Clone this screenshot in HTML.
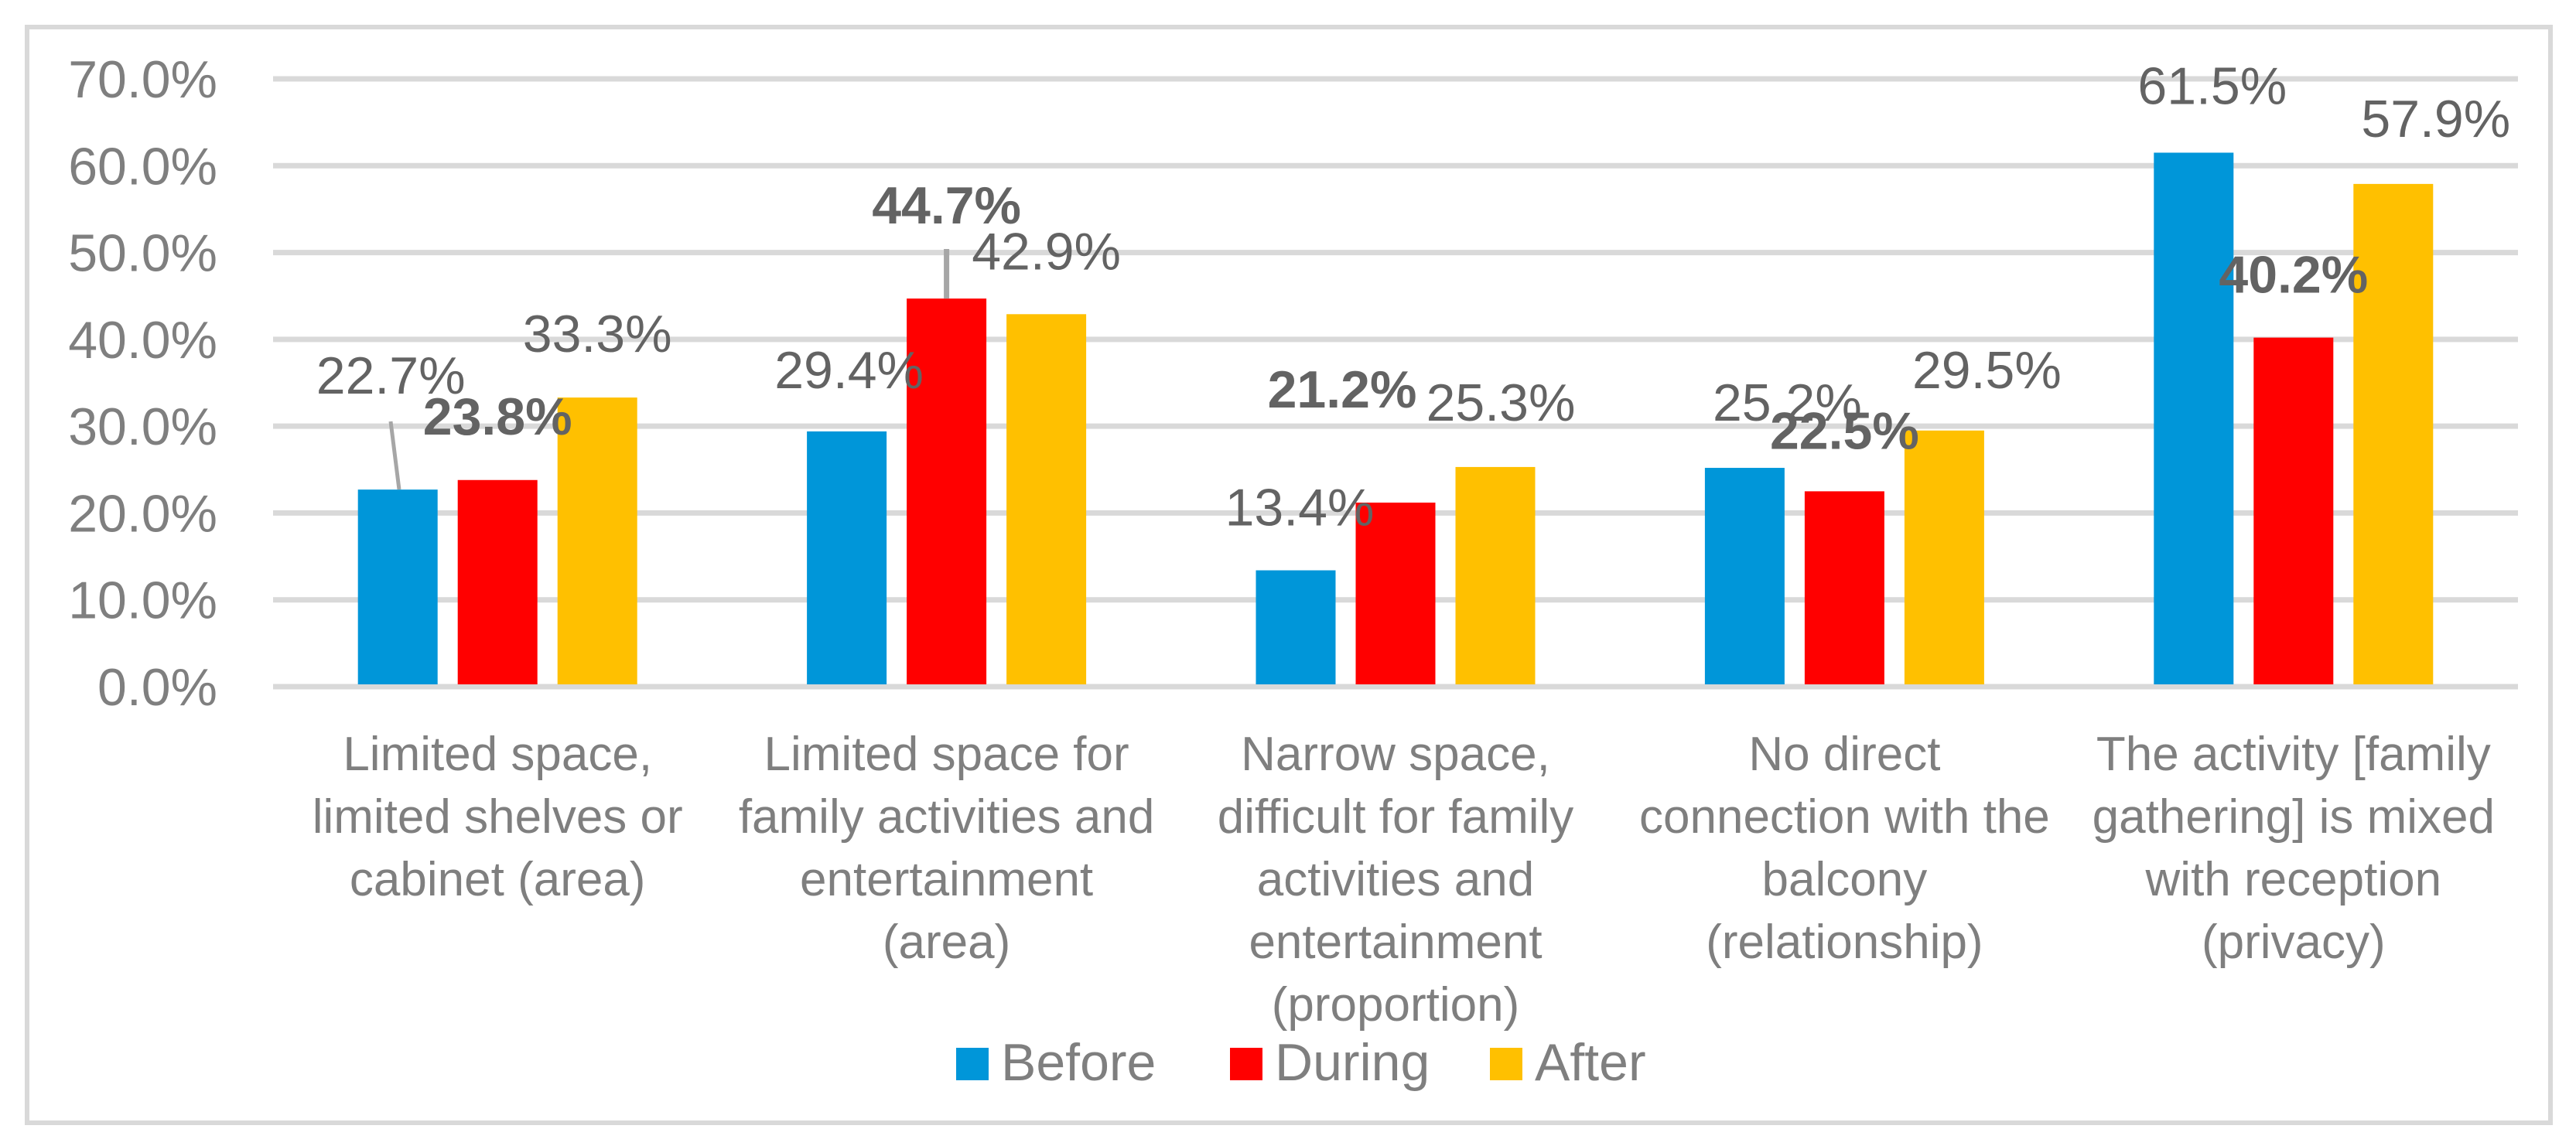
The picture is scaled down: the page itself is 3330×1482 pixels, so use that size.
<!DOCTYPE html>
<html><head><meta charset="utf-8"><style>
html,body{margin:0;padding:0;background:#fff;}
svg{display:block;font-family:"Liberation Sans",Arial,sans-serif;}
</style></head><body>
<svg id="chart" width="3330" height="1482" viewBox="0 0 3330 1482" xmlns="http://www.w3.org/2000/svg">
<rect x="35" y="35" width="3262" height="1417" fill="#fff" stroke="#d9d9d9" stroke-width="6"/>
<g id="grid"></g><g id="bars"></g><g id="labels"></g><g id="cats"></g>
<g>
<rect x="1236" y="1355" width="42" height="42" fill="#0096D9"/>
<text x="1294" y="1397" font-size="68" fill="#7f7f7f">Before</text>
<rect x="1590" y="1355" width="42" height="42" fill="#FF0000"/>
<text x="1648" y="1397" font-size="68" fill="#7f7f7f">During</text>
<rect x="1926" y="1355" width="42" height="42" fill="#FFC000"/>
<text x="1984" y="1397" font-size="68" fill="#7f7f7f">After</text>
</g>
</svg>
<script>
const categories = [
  ["Limited space,","limited shelves or","cabinet (area)"],
  ["Limited space for","family activities and","entertainment","(area)"],
  ["Narrow space,","difficult for family","activities and","entertainment","(proportion)"],
  ["No direct","connection with the","balcony","(relationship)"],
  ["The activity [family","gathering] is mixed","with reception","(privacy)"]
];
const before = [22.7, 29.4, 13.4, 25.2, 61.5];
const during = [23.8, 44.7, 21.2, 22.5, 40.2];
const after = [33.3, 42.9, 25.3, 29.5, 57.9];
const yTicks = [0, 10, 20, 30, 40, 50, 60, 70];
const seriesNames = ["before","during","after"];

const NS = "http://www.w3.org/2000/svg";
const plotL = 353, plotR = 3255, y0 = 888, yTop = 102, yMax = 70;
const catW = (plotR - plotL) / categories.length;
const barW = 103, barStep = 129;
const colors = ["#0096D9","#FF0000","#FFC000"];
function y(v){ return y0 - (v / yMax) * (y0 - yTop); }
function xCenter(i){ return plotL + catW * (i + 0.5); }
function mk(tag, attrs, parent){
  const e = document.createElementNS(NS, tag);
  for (const k in attrs) e.setAttribute(k, attrs[k]);
  parent.appendChild(e); return e;
}
const grid = document.getElementById('grid');
yTicks.forEach(t => {
  const l = mk('line', {x1: plotL, x2: plotR, y1: y(t), y2: y(t), stroke: '#d9d9d9', 'stroke-width': 7}, grid);
  
  
  const tx = mk('text', {x: 281, y: y(t) + 24, 'text-anchor': 'end', 'font-size': 68, fill: '#7f7f7f'}, grid);
  tx.textContent = t.toFixed(1) + '%';
  
  
});
const adj = [
  [[-9,124],[3,56],[5,58],[55,61],[24,63]],
  [[0,59],[0,97],[-69,123],[0,55],[0,58]],
  [[0,59],[0,58],[7,60],[55,55],[55,61]]
];
const bars = document.getElementById('bars'), labels = document.getElementById('labels');
[before, during, after].forEach((series, s) => {
  series.forEach((v, i) => {
    const cx = xCenter(i) + (s - 1) * barStep;
    const r = mk('rect', {x: cx - barW/2, y: y(v), width: barW, height: y0 - 3 - y(v), fill: colors[s]}, bars);
    
    
    const a = adj[s][i];
    const t = mk('text', {x: cx + a[0], y: y(v) - a[1], 'text-anchor': 'middle', 'font-size': 68, fill: '#636363', 'font-weight': s === 1 ? 'bold' : 'normal'}, labels);
    t.textContent = v.toFixed(1) + '%';
    
    
  });
});
(function(){
  const l1 = mk('line', {x1: 505, y1: 545, x2: 516, y2: y(before[0]), stroke: '#a6a6a6', 'stroke-width': 5}, labels);
  
  
  const cx = xCenter(1);
  const l2 = mk('line', {x1: cx, y1: 322, x2: cx, y2: y(during[1]), stroke: '#a6a6a6', 'stroke-width': 7}, labels);
  
  
})();
const cats = document.getElementById('cats');
categories.forEach((lines, i) => {
  const g = mk('text', {'text-anchor': 'middle', 'font-size': 62, fill: '#7f7f7f'}, cats);
  
  
  lines.forEach((ln, j) => {
    const ts = mk('tspan', {x: xCenter(i), y: 996 + j * 81}, g);
    ts.textContent = ln;
  });
});
</script>
</body></html>
